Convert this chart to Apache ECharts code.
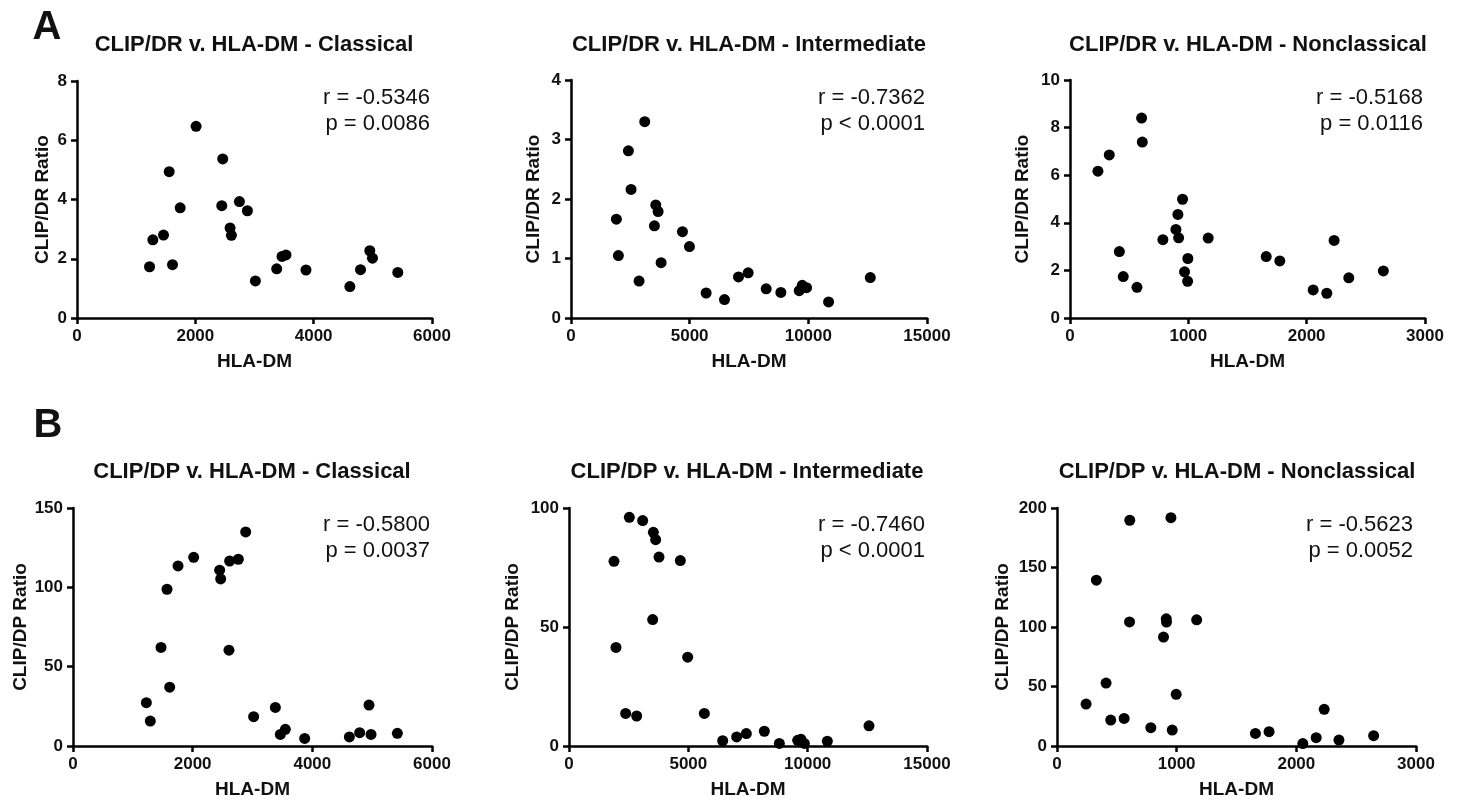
<!DOCTYPE html>
<html><head><meta charset="utf-8">
<script src="https://cdn.jsdelivr.net/npm/echarts@6/dist/echarts.min.js"></script>
<style>html,body{margin:0;padding:0;background:#fff}#c{width:1460px;height:800px}</style>
</head><body><div id="c"></div>
<script>
// ---- Data ----
const titles = [
  "CLIP/DR v. HLA-DM - Classical", "CLIP/DR v. HLA-DM - Intermediate", "CLIP/DR v. HLA-DM - Nonclassical",
  "CLIP/DP v. HLA-DM - Classical", "CLIP/DP v. HLA-DM - Intermediate", "CLIP/DP v. HLA-DM - Nonclassical"
];
const yNames = ["CLIP/DR Ratio","CLIP/DR Ratio","CLIP/DR Ratio","CLIP/DP Ratio","CLIP/DP Ratio","CLIP/DP Ratio"];
const xName = "HLA-DM";
const rText = ["r = -0.5346","r = -0.7362","r = -0.5168","r = -0.5800","r = -0.7460","r = -0.5623"];
const pText = ["p = 0.0086","p < 0.0001","p = 0.0116","p = 0.0037","p < 0.0001","p = 0.0052"];
const xMax = [6000,15000,3000,6000,15000,3000];
const xStep = [2000,5000,1000,2000,5000,1000];
const yMax = [8,4,10,150,100,200];
const yStep = [2,1,2,50,50,50];

const drClassicalX = [1226,1282,1462,1558,1614,1744,2013,2463,2447,2587,2610,2745,2880,3015,3375,3465,3532,3870,4612,4792,4949,4994,5422];
const drClassicalY = [1.73,2.64,2.80,4.94,1.80,3.72,6.47,5.37,3.79,3.04,2.79,3.93,3.62,1.25,1.66,2.08,2.13,1.62,1.06,1.63,2.27,2.02,1.54];
const drInterX = [1912,1996,2418,2531,2868,3107,3515,3571,3669,3796,4696,4991,5694,6467,7057,7465,8224,8843,9617,9743,9925,10853,12611];
const drInterY = [1.66,1.05,2.81,2.16,0.62,3.30,1.55,1.90,1.79,0.93,1.45,1.20,0.42,0.31,0.69,0.76,0.49,0.43,0.46,0.55,0.51,0.27,0.68];
const drNonX = [236,332,417,450,566,605,611,785,895,912,918,951,968,996,994,1168,1658,1773,2055,2170,2232,2356,2648];
const drNonY = [6.17,6.85,2.79,1.74,1.29,8.40,7.39,3.29,3.72,4.35,3.37,4.99,1.94,2.50,1.54,3.36,2.58,2.40,1.18,1.04,3.26,1.69,1.98];
const dpClassicalX = [1226,1292,1471,1571,1616,1755,2017,2451,2468,2607,2618,2763,2886,3019,3382,3465,3549,3872,4619,4791,4947,4981,5421];
const dpClassicalY = [27.3,15.7,62.1,98.8,37.1,113.5,118.9,110.8,105.3,60.4,116.6,117.7,134.9,18.5,24.3,7.3,10.5,4.8,5.7,8.4,25.8,7.3,8.0];
const dpInterX = [1885,1969,2374,2528,2835,3087,3506,3534,3631,3771,4665,4972,5670,6439,7025,7430,8184,8813,9581,9721,9860,10824,12570];
const dpInterY = [77.6,41.4,13.7,96.1,12.6,94.7,53.1,89.8,86.7,79.4,77.9,37.3,13.7,2.2,3.8,5.2,6.2,1.1,2.4,2.8,1.1,2.0,8.5];
const dpNonX = [243,329,410,449,561,608,606,784,890,913,915,952,963,996,1167,1658,1772,2054,2166,2233,2356,2646];
const dpNonY = [35.2,139.3,52.9,21.8,23.2,189.7,104.3,15.4,91.5,106.9,104.1,191.9,13.4,43.4,106.0,10.6,12.0,2.0,7.0,30.8,5.0,8.7];

const panelX = [drClassicalX, drInterX, drNonX, dpClassicalX, dpInterX, dpNonX];
const panelY = [drClassicalY, drInterY, drNonY, dpClassicalY, dpInterY, dpNonY];

// ---- Layout ----
const FONT = "'Liberation Sans', Arial, sans-serif";
const grids = [
  {left:77,  top:81,  width:355, height:237},
  {left:571, top:80,  width:356, height:238},
  {left:1070,top:80,  width:355, height:238},
  {left:73,  top:508, width:359, height:238},
  {left:569, top:508, width:358, height:238},
  {left:1057,top:508, width:359, height:238}
];
const titleCx = [254, 749, 1248, 252, 747, 1237];
const titleCy = [45, 45, 45, 472, 472, 472];
const statRight = [430, 925, 1423, 430, 925, 1413];
const yNameGap = [25, 28, 38, 38, 47, 45];

const axisCommon = {
  axisLine: {show:true, onZero:false, lineStyle:{color:'#000', width:2.5}},
  axisTick: {show:true, length:6, lineStyle:{color:'#000', width:2.5}},
  splitLine: {show:false},
  axisLabel: {color:'#111', fontFamily:FONT, fontWeight:'bold', fontSize:17, margin:10,
              formatter: v => String(v)},
  nameTextStyle: {color:'#111', fontFamily:FONT, fontWeight:'bold', fontSize:19}
};

const xAxes = [], yAxes = [], series = [], graphics = [];
for (let i = 0; i < 6; i++) {
  xAxes.push(Object.assign({}, axisCommon, {
    type:'value', gridIndex:i, min:0, max:xMax[i], interval:xStep[i],
    name:xName, nameLocation:'middle', nameGap:34
  }));
  yAxes.push(Object.assign({}, axisCommon, {
    type:'value', gridIndex:i, min:0, max:yMax[i], interval:yStep[i],
    name:yNames[i], nameLocation:'middle', nameGap:yNameGap[i], nameRotate:90
  }));
  series.push({
    type:'scatter', xAxisIndex:i, yAxisIndex:i, symbol:'circle', symbolSize:11,
    itemStyle:{color:'#000', opacity:1},
    data: panelX[i].map((x, k) => [x, panelY[i][k]]),
    animation:false
  });
  graphics.push({type:'text', x:titleCx[i], y:titleCy[i],
    style:{text:titles[i], font:"bold 22px " + FONT, fill:'#111', textAlign:'center', textVerticalAlign:'middle'}});
  const base = i < 3 ? 98 : 525;
  graphics.push({type:'text', x:statRight[i], y:base,
    style:{text:rText[i], font:"22px " + FONT, fill:'#111', textAlign:'right', textVerticalAlign:'middle'}});
  graphics.push({type:'text', x:statRight[i], y:base + 26,
    style:{text:pText[i], font:"22px " + FONT, fill:'#111', textAlign:'right', textVerticalAlign:'middle'}});
}
graphics.push({type:'text', x:47, y:28, style:{text:'A', font:"bold 40px " + FONT, fill:'#111', textAlign:'center', textVerticalAlign:'middle'}});
graphics.push({type:'text', x:48, y:426, style:{text:'B', font:"bold 40px " + FONT, fill:'#111', textAlign:'center', textVerticalAlign:'middle'}});

const chart = echarts.init(document.getElementById('c'), null, {renderer:'canvas'});
chart.setOption({
  backgroundColor:'#fff',
  animation:false,
  grid: grids.map(g => Object.assign({containLabel:false}, g)),
  xAxis: xAxes, yAxis: yAxes, series: series, graphic: graphics
});
</script></body></html>
